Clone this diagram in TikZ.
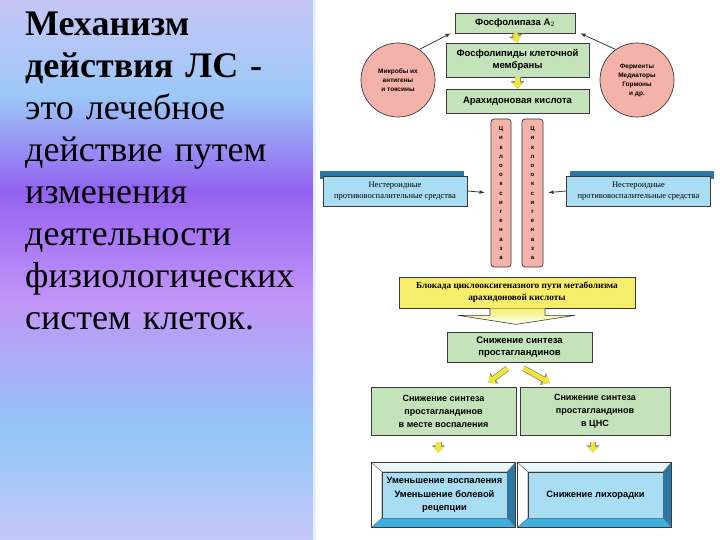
\documentclass[tikz,border=0pt]{standalone}
\usepackage{fontspec}
\setmainfont{Liberation Serif}
\newfontfamily\arial{Liberation Sans}
\usetikzlibrary{positioning,calc,arrows.meta}

\definecolor{boxgreen}{HTML}{C4E3BA}
\definecolor{boxpink}{HTML}{F4B3AA}
\definecolor{boxblue}{HTML}{A9DDF3}
\definecolor{boxyellow}{HTML}{F6EE6A}
\definecolor{arryellow}{HTML}{F0E63A}
\definecolor{edge}{HTML}{3A3A3A}
\definecolor{bluedark}{HTML}{2A78A6}
\definecolor{bluemid}{HTML}{3CB0DE}
\definecolor{bluetop}{HTML}{EAF7FD}
\definecolor{pa}{HTML}{C6C6F6}
\definecolor{pb}{HTML}{9CC8F8}
\definecolor{pc}{HTML}{9462F0}
\definecolor{pd}{HTML}{C295F8}
\definecolor{pe}{HTML}{92C6F8}
\definecolor{pf}{HTML}{C4C8F8}

\newcommand\cox{Ц\\и\\к\\л\\о\\о\\к\\с\\и\\г\\е\\н\\а\\з\\а}

% bevelled frame round a node
\newcommand\bevel[1]{%
  \coordinate (#1-a) at ($(#1.north west)+(-10,-9)$);
  \coordinate (#1-b) at ($(#1.north east)+(8,-9)$);
  \coordinate (#1-c) at ($(#1.south east)+(8,9)$);
  \coordinate (#1-d) at ($(#1.south west)+(-10,9)$);
  \filldraw[bv, fill=bluetop] (#1-a) -- (#1-b) -- (#1.north east) -- (#1.north west) -- cycle;
  \filldraw[bv, fill=white] (#1-a) -- (#1.north west) -- (#1.south west) -- (#1-d) -- cycle;
  \filldraw[bv, fill=bluedark] (#1-b) -- (#1-c) -- (#1.south east) -- (#1.north east) -- cycle;
  \filldraw[bv, fill=bluemid] (#1-d) -- (#1.south west) -- (#1.south east) -- (#1-c) -- cycle;
  \draw[edge, line width=0.8pt] (#1-a) rectangle (#1-c);
}

\begin{document}
\begin{tikzpicture}[x=1pt,y=-1pt]
    \tikzstyle{every node}=[font=\arial\bfseries\fontsize{9.5}{12}\selectfont, align=center, inner sep=1pt]
    \tikzset{
        g/.style={draw=edge, fill=boxgreen, line width=0.7pt},
        c/.style={circle, draw=edge, fill=boxpink, line width=0.7pt, minimum size=74, font=\arial\bfseries\fontsize{6.5}{9}\selectfont},
        bar/.style={draw=edge, fill=boxpink, rounded corners=3pt, line width=0.7pt, minimum width=20, minimum height=148, font=\arial\bfseries\fontsize{6}{9.2}\selectfont},
        bl/.style={draw=edge, fill=boxblue, line width=0.6pt, minimum width=144, minimum height=30, font=\fontsize{8.5}{11}\selectfont},
        blback/.style={fill=bluedark, minimum width=144, minimum height=8},
        bv/.style={draw=edge!70, line width=0.4pt},
        dk/.style={draw=edge, line width=0.8pt, -latex},
        yarr/.style={draw=arryellow, line width=4.5pt, -{Triangle[width=11pt,length=6pt]},
            preaction={draw=edge!60, line width=6pt, -{Triangle[width=13pt,length=7.5pt]}}}
        }

    \useasboundingbox (0,0) rectangle (720,540);

    %left panel
    \shade[top color=pa, bottom color=pb] (0,0) rectangle (314,96);
    \shade[top color=pb, bottom color=pc] (0,95) rectangle (314,191);
    \shade[top color=pc, bottom color=pd] (0,190) rectangle (314,301);
    \shade[top color=pd, bottom color=pe] (0,300) rectangle (314,431);
    \shade[top color=pe, bottom color=pf] (0,430) rectangle (314,540);
    \fill[white!75!pb] (313,0) rectangle (316,540);

    \node (title) [anchor=base west, text width=295, align=left, inner sep=0,
        font=\fontsize{36}{42}\selectfont] at (25,36)
        {{\bfseries Механизм\\действия ЛС -}\\это лечебное\\действие путем\\изменения\\деятельности\\физиологических\\систем клеток.};

    %membrane chain
    \node (fosfolipaza) [g, minimum width=120, minimum height=20] at (515,23) {Фосфолипаза А$_2$};
    \node (fosfolipidy) [g, minimum width=143, minimum height=34] at (517.5,60) {Фосфолипиды клеточной\\мембраны};
    \node (arahidon) [g, minimum width=143, minimum height=24] at (517.5,101) {Арахидоновая кислота};

    %activators
    \node (mikroby) [c] at (398,80) {Микробы их\\антигены\\и токсины};
    \node (fermenty) [c] at (637,80) {Ферменты\\Медиаторы\\Гормоны\\и др.};

    %cyclooxygenase
    \node (cox1) [bar] at (501,193) {\cox};
    \node (cox2) [bar, minimum width=21] at (532.5,193) {\cox};

    %NSAIDs
    \node (nspvs1back) [blback] at (392,175) {};
    \node (nspvs1) [bl] at ($(nspvs1back)+(3,16)$) {Нестероидные\\противовоспалительные средства};
    \node (nspvs2back) [blback] at (641.5,175) {};
    \node (nspvs2) [bl] at ($(nspvs2back)+(-3,16)$) {Нестероидные\\противовоспалительные средства};

    %blockade
    \node (blokada) [draw=edge, fill=boxyellow, line width=0.7pt, minimum width=236, minimum height=31,
        font=\bfseries\fontsize{9.3}{12}\selectfont] at (517,292.5)
        {Блокада циклооксигеназного пути метаболизма\\арахидоновой кислоты};

    \node (snizhenie) [g, minimum width=145, minimum height=30] at (519.5,347) {Снижение синтеза\\простагландинов};
    \node (snizhenie1) [g, minimum width=145, minimum height=48, font=\arial\bfseries\fontsize{9}{13}\selectfont] at (443.5,411)
        {Снижение синтеза\\простагландинов\\в месте воспаления};
    \node (snizhenie2) [g, minimum width=150, minimum height=48, font=\arial\bfseries\fontsize{9}{13}\selectfont] at (595,411)
        {Снижение синтеза\\простагландинов\\в ЦНС};

    %effects
    \node (umensh) [draw=edge, fill=boxblue, line width=0.5pt, minimum width=125, minimum height=46,
        font=\arial\bfseries\fontsize{9.3}{13.5}\selectfont] at (444.5,495)
        {Уменьшение воспаления\\Уменьшение болевой\\рецепции};
    \node (lihorad) [draw=edge, fill=boxblue, line width=0.5pt, minimum width=135, minimum height=46,
        font=\arial\bfseries\fontsize{9.3}{13.5}\selectfont] at (595.5,495) {Снижение лихорадки};
    \bevel{umensh}
    \bevel{lihorad}

    %arrows
    \draw[yarr] (fosfolipaza.south) -- (fosfolipidy.north);
    \draw[yarr] (fosfolipidy.south) -- (arahidon.north);
    \draw[dk] (mikroby.55) -- ($(fosfolipaza.south west)+(-4,0)$);
    \draw[dk] (fermenty.125) -- ($(fosfolipaza.south east)+(5,0)$);
    \draw[dk, shorten >=6pt] (nspvs1.east) -- (cox1.west);
    \draw[dk, shorten >=5pt] (nspvs2.west) -- (cox2.east);

    % big arrow under the blockade
    \coordinate (ba) at (blokada.south);
    \shade[top color=boxyellow, bottom color=white, draw=edge, line width=0.6pt]
        ($(ba)+(-27,0)$) -- ($(ba)+(-27,7)$) -- ($(ba)+(-59,7)$) -- ($(ba)+(-1,16)$)
        -- ($(ba)+(58,7)$) -- ($(ba)+(28,7)$) -- ($(ba)+(28,0)$);

    \draw[yarr] ($(snizhenie.south)+(-12,6)$) -- ($(snizhenie1.north east)+(-28,-4)$);
    \draw[yarr] ($(snizhenie.south)+(4,6)$) -- ($(snizhenie2.north west)+(30,-4)$);
    \draw[yarr] ($(snizhenie1.south)+(-5,7)$) -- ($(umensh.north)+(-6,-19)$);
    \draw[yarr] ($(snizhenie2.south)+(-2,7)$) -- ($(lihorad.north)+(-2.5,-19)$);
\end{tikzpicture}
\end{document}
